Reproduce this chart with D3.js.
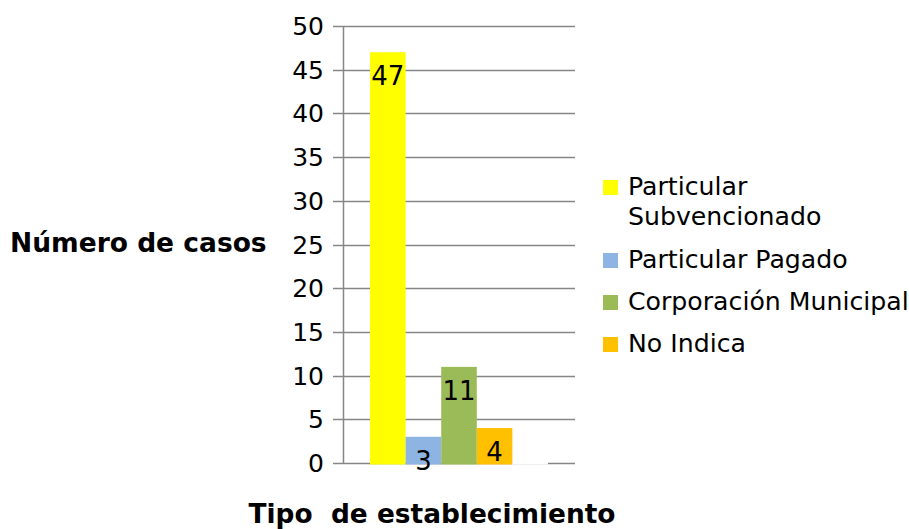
<!DOCTYPE html>
<html>
<head>
<meta charset="utf-8">
<script src="https://cdn.jsdelivr.net/npm/d3@7"></script>
<style>
  body { margin: 0; background: #fff; }
  text { font-family: "DejaVu Sans", sans-serif; }
</style>
</head>
<body>
<script>
  // data
  var series = ["Particular Subvencionado", "Particular Pagado", "Corporación Municipal", "No Indica", ""];
  var values = [47, 3, 11, 4, 0];
  var colors = ["#FFFF00", "#8EB4E3", "#9BBB59", "#FFC000", "#FFFFFF"];
  var legendLines = [["Particular", "Subvencionado"], ["Particular Pagado"], ["Corporación Municipal"], ["No Indica"]];
  var yTicks = [0, 5, 10, 15, 20, 25, 30, 35, 40, 45, 50];

  var width = 909, height = 529;
  var plot = {left: 343, right: 575, top: 26, bottom: 463};

  var svg = d3.select("body").append("svg")
      .attr("width", width)
      .attr("height", height);

  var y = d3.scaleLinear().domain([0, 50]).range([plot.bottom, plot.top]);
  var x = d3.scaleBand().domain(series).range([plot.left, plot.right])
      .paddingInner(0).paddingOuter(0.76);

  // gridlines
  svg.append("g").selectAll("line").data(yTicks).enter().append("line")
      .attr("x1", plot.left - 10).attr("x2", plot.right)
      .attr("y1", d => Math.round(y(d)) + 0.5).attr("y2", d => Math.round(y(d)) + 0.5)
      .attr("stroke", "#868686").attr("stroke-width", 1.5);

  // y axis line
  svg.append("line")
      .attr("x1", plot.left + 0.5).attr("x2", plot.left + 0.5)
      .attr("y1", plot.top).attr("y2", plot.bottom)
      .attr("stroke", "#868686").attr("stroke-width", 1.5);

  // tick labels
  svg.append("g").selectAll("text").data(yTicks).enter().append("text")
      .attr("x", 324).attr("y", d => y(d))
      .attr("dy", "0.36em")
      .attr("text-anchor", "end")
      .style("font-size", "25px")
      .text(d => d);

  // bars
  var y0 = y(0);
  svg.append("g").selectAll("rect").data(values).enter().append("rect")
      .attr("x", (d, i) => x(series[i]))
      .attr("width", x.bandwidth())
      .attr("y", d => Math.min(y(d), y0 - 1))
      .attr("height", d => y0 + 1.5 - Math.min(y(d), y0 - 1))
      .attr("fill", (d, i) => colors[i]);

  // data labels (inside end)
  svg.append("g").selectAll("text").data(values.slice(0, 4)).enter().append("text")
      .attr("x", (d, i) => x(series[i]) + x.bandwidth() / 2)
      .attr("y", d => y(d) + 33)
      .attr("text-anchor", "middle")
      .style("font-size", "26px")
      .text(d => d);

  // legend
  var legendY = [195, 268, 310, 352];
  var lg = svg.append("g");
  legendLines.forEach(function (lines, i) {
    lg.append("rect")
      .attr("x", 603).attr("y", legendY[i] - 15)
      .attr("width", 15).attr("height", 15)
      .attr("fill", colors[i]);
    lines.forEach(function (t, j) {
      lg.append("text")
        .attr("x", 628).attr("y", legendY[i] + j * 30)
        .style("font-size", "25.2px")
        .text(t);
    });
  });

  // axis titles
  svg.append("text")
      .attr("x", 10).attr("y", 252)
      .style("font-size", "26.5px").style("font-weight", "bold")
      .text("Número de casos");

  svg.append("text")
      .attr("x", 432).attr("y", 523)
      .attr("text-anchor", "middle")
      .style("font-size", "26.4px").style("font-weight", "bold")
      .style("white-space", "pre")
      .attr("xml:space", "preserve")
      .text("Tipo  de establecimiento");
</script>
</body>
</html>
